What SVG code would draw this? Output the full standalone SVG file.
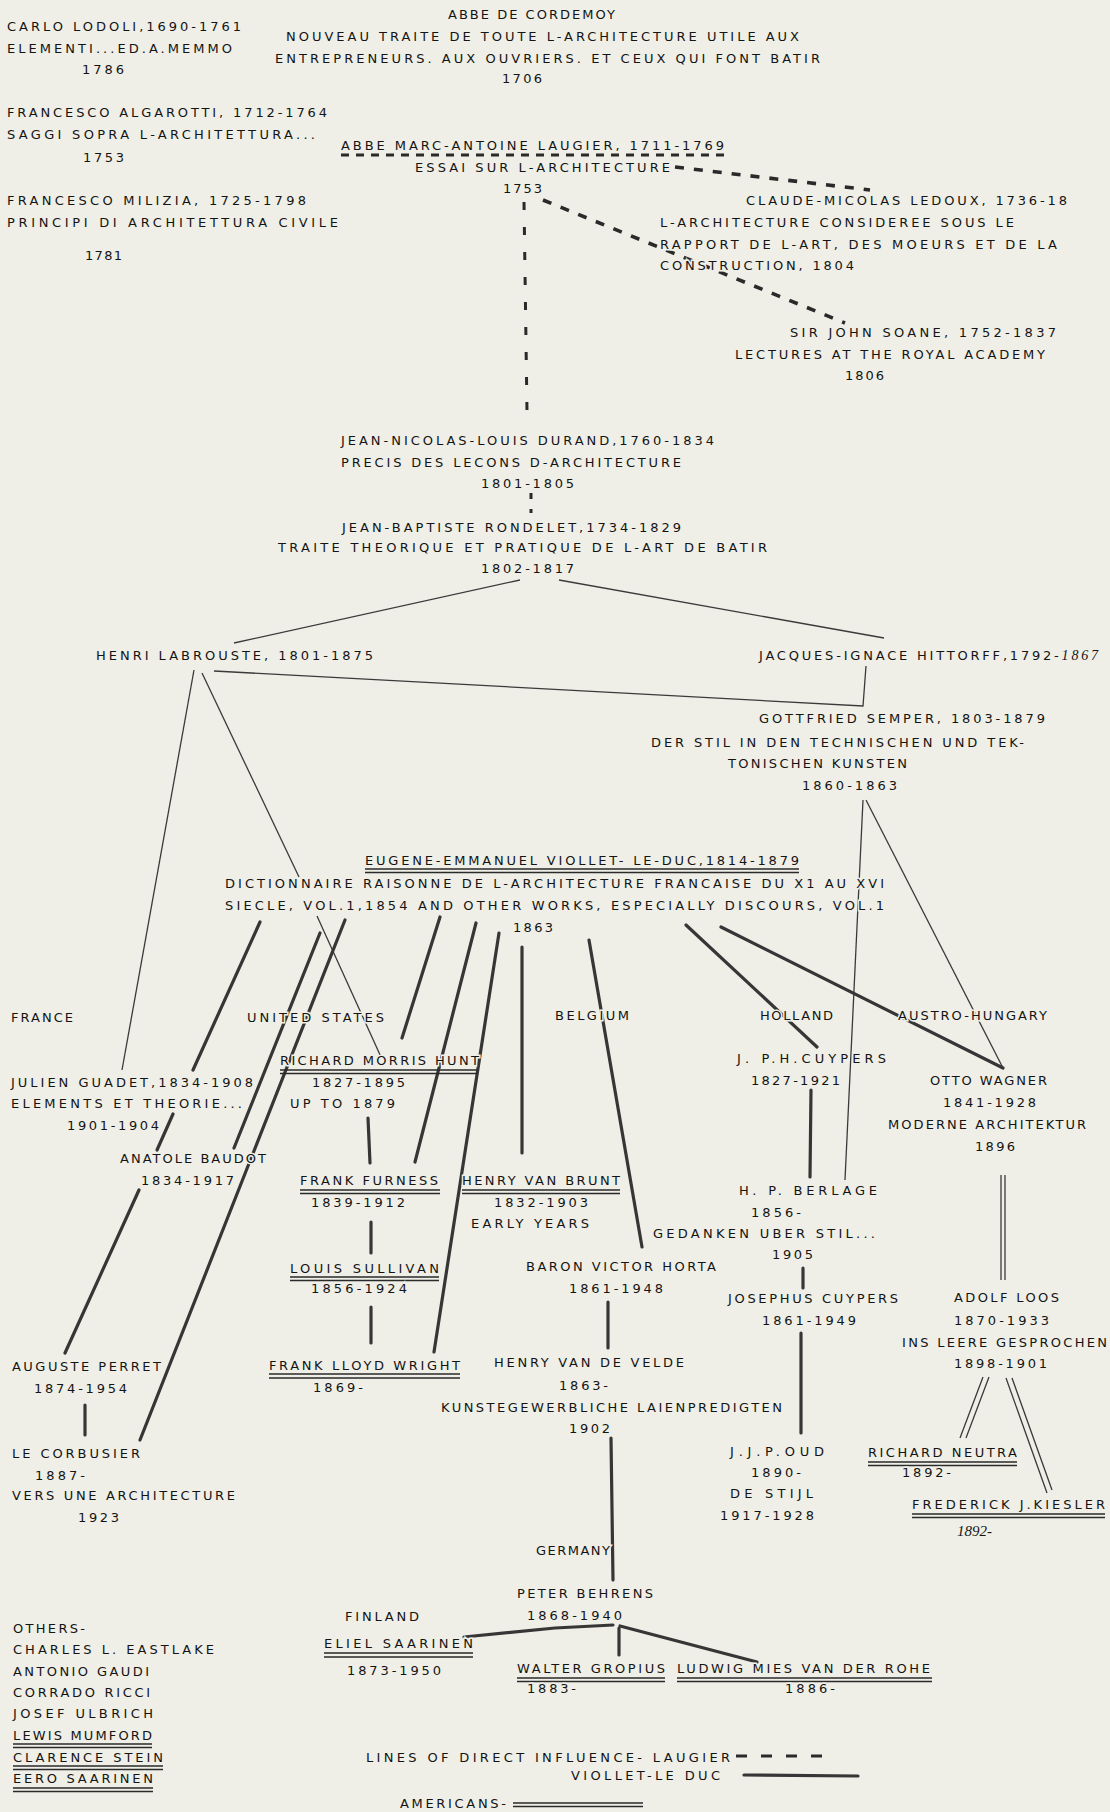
<svg xmlns="http://www.w3.org/2000/svg" width="1110" height="1812" viewBox="0 0 1110 1812">
<style>
text{font-family:"DejaVu Sans","Liberation Sans",Arial,sans-serif;font-size:13px;fill:#141414;stroke:#efefe7;stroke-width:3px;paint-order:stroke}
.hw{font-family:"Liberation Serif","Times New Roman",serif;font-style:italic;font-size:15px}
.thin{stroke:#3a3a3a;stroke-width:1.3;fill:none}
.thick{stroke:#363636;stroke-width:3.2;fill:none;stroke-linecap:round}
.dash{stroke:#2a2a2a;stroke-width:3.6;fill:none;stroke-dasharray:9 10}
.vdash{stroke:#2a2a2a;stroke-width:3;fill:none;stroke-dasharray:8 17}
.ul{stroke:#2a2a2a;stroke-width:1.4;fill:none}
</style>
<rect width="1110" height="1812" fill="#efefe7"/>

<g id="connectors">
  <path class="dash" d="M675,167 L870,190"/>
  <path class="vdash" d="M524,202 L527,412"/>
  <path class="vdash" d="M531,493 L531,513" style="stroke-dasharray:6 10"/>
  <path class="dash" d="M543,200 L845,323"/>
  <path class="thin" d="M520,580 L234,643"/>
  <path class="thin" d="M559,580 L884,638"/>
  <path class="thin" d="M214,671 L863,706 L866,666"/>
  <path class="thin" d="M194,670 L122,1070"/>
  <path class="thin" d="M202,673 L299,877"/>
  <path class="thin" d="M317,916 L381,1057"/>
  <path class="thin" d="M863,800 L845,1180"/>
  <path class="thin" d="M866,800 L1003,1068"/>
  <path class="thick" d="M260,922 L193,1070"/>
  <path class="thick" d="M173,1114 L157,1150"/>
  <path class="thick" d="M139,1190 L65,1353"/>
  <path class="thick" d="M320,933 L234,1148"/>
  <path class="thick" d="M345,920 L140,1440"/>
  <path class="thick" d="M440,917 L402,1038"/>
  <path class="thick" d="M476,923 L415,1162"/>
  <path class="thick" d="M499,933 L434,1352"/>
  <path class="thick" d="M522,947 L522,1153"/>
  <path class="thick" d="M589,940 L642,1247"/>
  <path class="thick" d="M686,925 L817,1047"/>
  <path class="thick" d="M721,927 L1003,1068"/>
  <path class="thick" d="M368,1118 L370,1163"/>
  <path class="thick" d="M371,1222 L371,1253"/>
  <path class="thick" d="M371,1307 L371,1343"/>
  <path class="thick" d="M85,1405 L85,1435"/>
  <path class="thick" d="M608,1302 L608,1348"/>
  <path class="thick" d="M611,1438 L613,1580"/>
  <path class="thick" d="M811,1090 L810,1177"/>
  <path class="thick" d="M803,1268 L803,1288"/>
  <path class="thick" d="M801,1333 L801,1433"/>
  <path class="thick" d="M613,1625 L555,1628 L464,1637"/>
  <path class="thick" d="M619,1628 L619,1655"/>
  <path class="thick" d="M620,1626 L757,1662"/>
  <path class="thin" d="M1001,1175 L1001,1280 M1005,1175 L1005,1280"/>
  <path class="thin" d="M989,1377 L966,1438 M983,1377 L960,1438"/>
  <path class="thin" d="M1006,1378 L1047,1493 M1012,1378 L1052,1490"/>
</g>

<g id="lodoli">
  <text x="7" y="31" textLength="234">CARLO LODOLI,1690-1761</text>
  <text x="7" y="53" textLength="225">ELEMENTI...ED.A.MEMMO</text>
  <text x="82" y="74" textLength="42">1786</text>
</g>
<g id="algarotti">
  <text x="7" y="117" textLength="320">FRANCESCO ALGAROTTI, 1712-1764</text>
  <text x="7" y="139" textLength="308">SAGGI SOPRA L-ARCHITETTURA...</text>
  <text x="83" y="162" textLength="41">1753</text>
</g>
<g id="milizia">
  <text x="7" y="205" textLength="299">FRANCESCO MILIZIA, 1725-1798</text>
  <text x="7" y="227" textLength="331">PRINCIPI DI ARCHITETTURA CIVILE</text>
  <text x="85" y="260" textLength="37">1781</text>
</g>
<g id="cordemoy">
  <text x="448" y="19" textLength="167">ABBE DE CORDEMOY</text>
  <text x="286" y="41" textLength="513">NOUVEAU TRAITE DE TOUTE L-ARCHITECTURE UTILE AUX</text>
  <text x="275" y="63" textLength="545">ENTREPRENEURS. AUX OUVRIERS. ET CEUX QUI FONT BATIR</text>
  <text x="502" y="83" textLength="40">1706</text>
</g>
<g id="laugier">
  <text x="341" y="150" textLength="383">ABBE MARC-ANTOINE LAUGIER, 1711-1769</text>
  <path class="dash" d="M341,155 L724,155" style="stroke-width:3;stroke-dasharray:8 7"/>
  <text x="415" y="172" textLength="255">ESSAI SUR L-ARCHITECTURE</text>
  <text x="503" y="193" textLength="39">1753</text>
</g>
<g id="ledoux">
  <text x="746" y="205" textLength="321">CLAUDE-MICOLAS LEDOUX, 1736-18</text>
  <text x="660" y="227" textLength="354">L-ARCHITECTURE CONSIDEREE SOUS LE</text>
  <text x="660" y="249" textLength="397">RAPPORT DE L-ART, DES MOEURS ET DE LA</text>
  <text x="660" y="270" textLength="194">CONSTRUCTION, 1804</text>
</g>
<g id="soane">
  <text x="790" y="337" textLength="266">SIR JOHN SOANE, 1752-1837</text>
  <text x="735" y="359" textLength="310">LECTURES AT THE ROYAL ACADEMY</text>
  <text x="845" y="380" textLength="39">1806</text>
</g>
<g id="durand">
  <text x="341" y="445" textLength="373">JEAN-NICOLAS-LOUIS DURAND,1760-1834</text>
  <text x="341" y="467" textLength="340">PRECIS DES LECONS D-ARCHITECTURE</text>
  <text x="481" y="488" textLength="93">1801-1805</text>
</g>
<g id="rondelet">
  <text x="342" y="532" textLength="339">JEAN-BAPTISTE RONDELET,1734-1829</text>
  <text x="278" y="552" textLength="489">TRAITE THEORIQUE ET PRATIQUE DE L-ART DE BATIR</text>
  <text x="481" y="573" textLength="93">1802-1817</text>
</g>
<g id="labrouste">
  <text x="96" y="660" textLength="277">HENRI LABROUSTE, 1801-1875</text>
</g>
<g id="hittorff">
  <text x="759" y="660" textLength="339">JACQUES-IGNACE HITTORFF,1792-<tspan class="hw" style="font-size:14px">1867</tspan></text>
</g>
<g id="semper">
  <text x="759" y="723" textLength="286">GOTTFRIED SEMPER, 1803-1879</text>
  <text x="651" y="747" textLength="373">DER STIL IN DEN TECHNISCHEN UND TEK-</text>
  <text x="728" y="768" textLength="179">TONISCHEN KUNSTEN</text>
  <text x="802" y="790" textLength="95">1860-1863</text>
</g>
<g id="viollet-le-duc">
  <text x="365" y="865" textLength="434">EUGENE-EMMANUEL VIOLLET- LE-DUC,1814-1879</text>
  <path class="ul" d="M365,869 L799,869 M365,872.5 L799,872.5"/>
  <text x="225" y="888" textLength="659">DICTIONNAIRE RAISONNE DE L-ARCHITECTURE FRANCAISE DU X1 AU XVI</text>
  <text x="225" y="910" textLength="659">SIECLE, VOL.1,1854 AND OTHER WORKS, ESPECIALLY DISCOURS, VOL.1</text>
  <text x="513" y="932" textLength="40">1863</text>
</g>
<g id="country-labels">
  <text x="11" y="1022" textLength="62">FRANCE</text>
  <text x="247" y="1022" textLength="137">UNITED STATES</text>
  <text x="555" y="1020" textLength="74">BELGIUM</text>
  <text x="760" y="1020" textLength="73">HOLLAND</text>
  <text x="898" y="1020" textLength="149">AUSTRO-HUNGARY</text>
  <text x="536" y="1555" textLength="74">GERMANY</text>
  <text x="345" y="1621" textLength="74">FINLAND</text>
</g>
<g id="hunt">
  <text x="280" y="1065" textLength="199">RICHARD MORRIS HUNT</text>
  <path class="ul" d="M280,1070 L478,1070 M280,1073.5 L478,1073.5"/>
  <text x="312" y="1087" textLength="93">1827-1895</text>
  <text x="290" y="1108" textLength="105">UP TO 1879</text>
</g>
<g id="guadet">
  <text x="11" y="1087" textLength="242">JULIEN GUADET,1834-1908</text>
  <text x="11" y="1108" textLength="231">ELEMENTS ET THEORIE...</text>
  <text x="67" y="1130" textLength="92">1901-1904</text>
</g>
<g id="baudot">
  <text x="120" y="1163" textLength="146">ANATOLE BAUDOT</text>
  <text x="141" y="1185" textLength="93">1834-1917</text>
</g>
<g id="furness">
  <text x="300" y="1185" textLength="138">FRANK FURNESS</text>
  <path class="ul" d="M300,1190 L440,1190 M300,1193.5 L440,1193.5"/>
  <text x="311" y="1207" textLength="94">1839-1912</text>
</g>
<g id="van-brunt">
  <text x="462" y="1185" textLength="158">HENRY VAN BRUNT</text>
  <path class="ul" d="M462,1190 L620,1190 M462,1193.5 L620,1193.5"/>
  <text x="494" y="1207" textLength="94">1832-1903</text>
  <text x="471" y="1228" textLength="118">EARLY YEARS</text>
</g>
<g id="sullivan">
  <text x="290" y="1273" textLength="149">LOUIS SULLIVAN</text>
  <path class="ul" d="M290,1277 L439,1277 M290,1280.5 L439,1280.5"/>
  <text x="311" y="1293" textLength="96">1856-1924</text>
</g>
<g id="wright">
  <text x="269" y="1370" textLength="191">FRANK LLOYD WRIGHT</text>
  <path class="ul" d="M269,1374 L460,1374 M269,1378 L460,1378"/>
  <text x="313" y="1392" textLength="50">1869-</text>
</g>
<g id="perret">
  <text x="12" y="1371" textLength="149">AUGUSTE PERRET</text>
  <text x="34" y="1393" textLength="93">1874-1954</text>
</g>
<g id="corbusier">
  <text x="12" y="1458" textLength="128">LE CORBUSIER</text>
  <text x="35" y="1480" textLength="50">1887-</text>
  <text x="12" y="1500" textLength="223">VERS UNE ARCHITECTURE</text>
  <text x="78" y="1522" textLength="41">1923</text>
</g>
<g id="jph-cuypers">
  <text x="737" y="1063" textLength="149">J. P.H.CUYPERS</text>
  <text x="751" y="1085" textLength="89">1827-1921</text>
</g>
<g id="wagner">
  <text x="930" y="1085" textLength="117">OTTO WAGNER</text>
  <text x="943" y="1107" textLength="93">1841-1928</text>
  <text x="888" y="1129" textLength="198">MODERNE ARCHITEKTUR</text>
  <text x="975" y="1151" textLength="40">1896</text>
</g>
<g id="berlage">
  <text x="739" y="1195" textLength="138">H. P. BERLAGE</text>
  <text x="751" y="1217" textLength="50">1856-</text>
  <text x="653" y="1238" textLength="222">GEDANKEN UBER STIL...</text>
  <text x="772" y="1259" textLength="41">1905</text>
</g>
<g id="horta">
  <text x="526" y="1271" textLength="190">BARON VICTOR HORTA</text>
  <text x="569" y="1293" textLength="94">1861-1948</text>
</g>
<g id="josephus-cuypers">
  <text x="728" y="1303" textLength="170">JOSEPHUS CUYPERS</text>
  <text x="762" y="1325" textLength="94">1861-1949</text>
</g>
<g id="loos">
  <text x="954" y="1302" textLength="105">ADOLF LOOS</text>
  <text x="954" y="1325" textLength="95">1870-1933</text>
  <text x="902" y="1347" textLength="205">INS LEERE GESPROCHEN</text>
  <text x="954" y="1368" textLength="93">1898-1901</text>
</g>
<g id="van-de-velde">
  <text x="494" y="1367" textLength="190">HENRY VAN DE VELDE</text>
  <text x="559" y="1390" textLength="49">1863-</text>
  <text x="441" y="1412" textLength="341">KUNSTEGEWERBLICHE LAIENPREDIGTEN</text>
  <text x="569" y="1433" textLength="41">1902</text>
</g>
<g id="oud">
  <text x="730" y="1456" textLength="94">J.J.P.OUD</text>
  <text x="751" y="1477" textLength="50">1890-</text>
  <text x="730" y="1498" textLength="83">DE STIJL</text>
  <text x="720" y="1520" textLength="94">1917-1928</text>
</g>
<g id="neutra">
  <text x="868" y="1457" textLength="149">RICHARD NEUTRA</text>
  <path class="ul" d="M868,1462 L1017,1462 M868,1465.5 L1017,1465.5"/>
  <text x="902" y="1477" textLength="49">1892-</text>
</g>
<g id="kiesler">
  <text x="912" y="1509" textLength="193">FREDERICK J.KIESLER</text>
  <path class="ul" d="M912,1514 L1105,1514 M912,1517.5 L1105,1517.5"/>
  <text class="hw" x="957" y="1536">1892-</text>
</g>
<g id="behrens">
  <text x="517" y="1598" textLength="136">PETER BEHRENS</text>
  <text x="527" y="1620" textLength="95">1868-1940</text>
</g>
<g id="eliel-saarinen">
  <text x="324" y="1648" textLength="149">ELIEL SAARINEN</text>
  <path class="ul" d="M324,1653 L473,1653 M324,1657 L473,1657"/>
  <text x="347" y="1675" textLength="94">1873-1950</text>
</g>
<g id="gropius">
  <text x="517" y="1673" textLength="148">WALTER GROPIUS</text>
  <path class="ul" d="M517,1678 L665,1678 M517,1681.5 L665,1681.5"/>
  <text x="527" y="1693" textLength="49">1883-</text>
</g>
<g id="mies">
  <text x="677" y="1673" textLength="253">LUDWIG MIES VAN DER ROHE</text>
  <path class="ul" d="M677,1678 L932,1678 M677,1681.5 L932,1681.5"/>
  <text x="785" y="1693" textLength="50">1886-</text>
</g>
<g id="others">
  <text x="13" y="1633" textLength="72">OTHERS-</text>
  <text x="13" y="1654" textLength="201">CHARLES L. EASTLAKE</text>
  <text x="13" y="1676" textLength="136">ANTONIO GAUDI</text>
  <text x="13" y="1697" textLength="137">CORRADO RICCI</text>
  <text x="13" y="1718" textLength="140">JOSEF ULBRICH</text>
  <text x="13" y="1740" textLength="139">LEWIS MUMFORD</text>
  <path class="ul" d="M13,1744 L152,1744 M13,1747.5 L152,1747.5"/>
  <text x="13" y="1762" textLength="150">CLARENCE STEIN</text>
  <path class="ul" d="M13,1766 L163,1766 M13,1769.5 L163,1769.5"/>
  <text x="13" y="1783" textLength="140">EERO SAARINEN</text>
  <path class="ul" d="M13,1788 L153,1788 M13,1791.5 L153,1791.5"/>
</g>
<g id="legend">
  <text x="366" y="1762" textLength="364">LINES OF DIRECT INFLUENCE- LAUGIER</text>
  <path class="dash" d="M736,1756 L834,1756" style="stroke-width:3;stroke-dasharray:11 14"/>
  <text x="571" y="1780" textLength="149">VIOLLET-LE DUC</text>
  <path class="thick" d="M744,1775 L858,1776"/>
  <text x="400" y="1808" textLength="106">AMERICANS-</text>
  <path class="ul" d="M513,1803 L643,1803 M513,1806.5 L643,1806.5"/>
</g>
</svg>
